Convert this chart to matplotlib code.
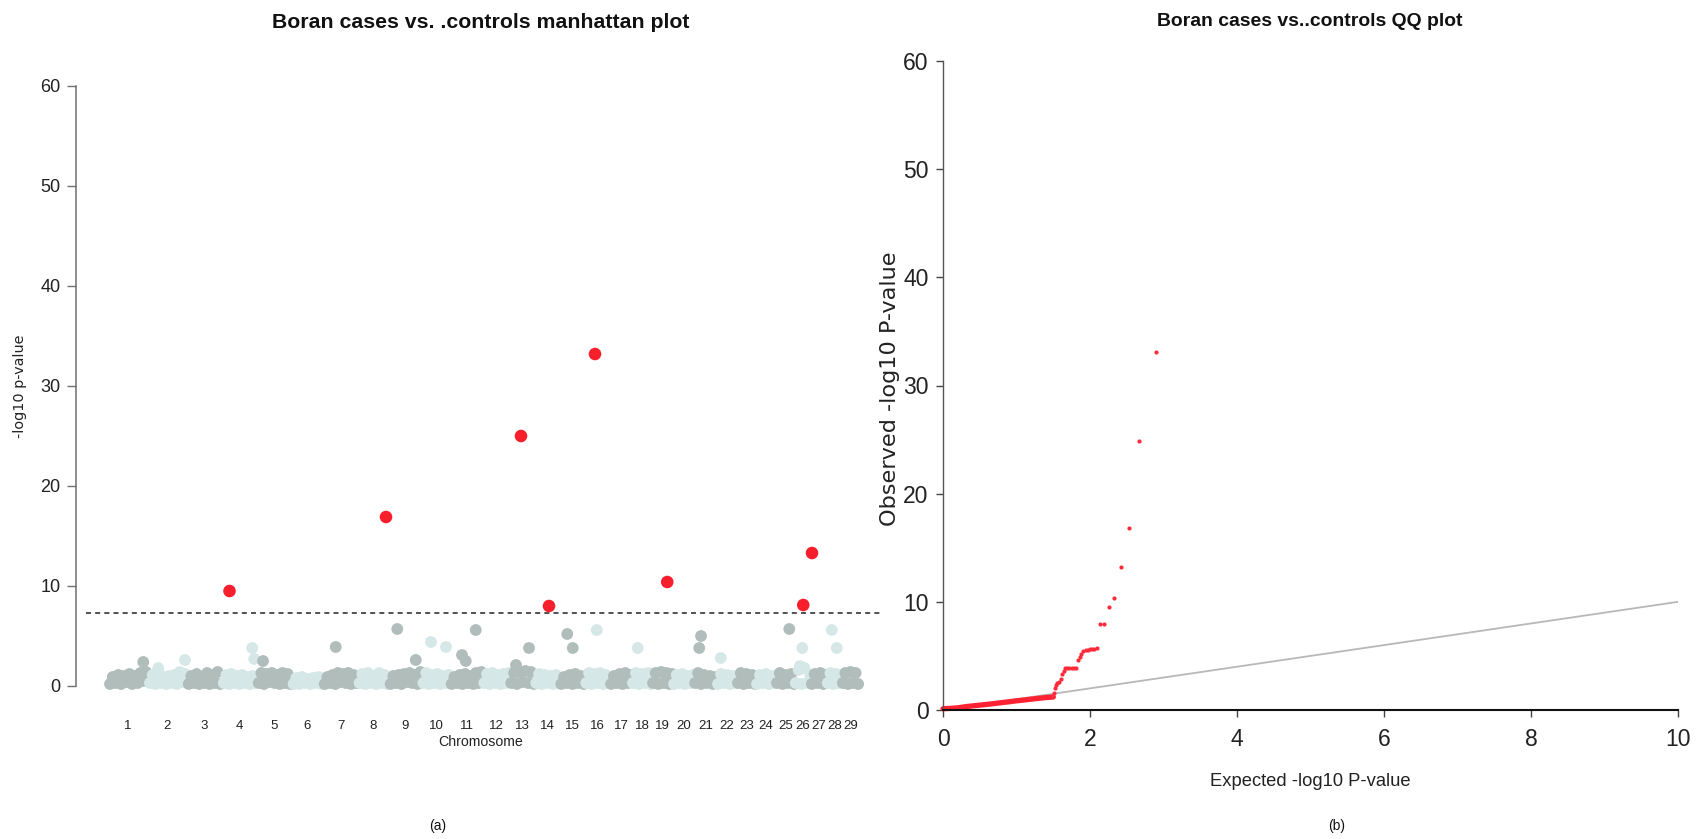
import numpy as np
import matplotlib
matplotlib.use("Agg")
import matplotlib.pyplot as plt
from matplotlib import font_manager as fm

# ---------------- data ----------------
chromosomes = list(range(1, 30))
# chromosome lengths (Mb, read from block widths)
chr_len = [160, 156, 140, 140, 140, 124, 140, 124, 132, 112, 132, 108, 100, 100,
           100, 100, 88, 80, 84, 84, 92, 80, 76, 80, 76, 64, 64, 60, 68]

# background SNP -log10(p) values per chromosome (evenly spread along chromosome)
bg_logp = [
    [0.2, 0.9, 0.3, 1.1, 0.2, 1.0, 0.4, 1.2, 0.2, 1.0, 0.3, 1.3, 0.5, 1.4],
    [0.3, 1.1, 0.2, 1.5, 0.3, 0.9, 0.2, 1.0, 0.3, 1.1, 0.2, 1.4, 0.4, 1.2],
    [0.2, 1.0, 0.3, 1.2, 0.2, 0.9, 0.3, 1.3, 0.2, 1.1, 0.3, 1.4, 0.2],
    [0.3, 1.1, 0.2, 1.2, 0.3, 1.0, 0.2, 1.1, 0.3, 0.9, 0.2, 1.0, 0.3],
    [0.3, 1.3, 0.2, 1.2, 0.4, 1.3, 0.3, 1.1, 0.2, 1.3, 0.3, 1.2, 0.2],
    [0.2, 0.8, 0.2, 0.9, 0.3, 0.7, 0.2, 0.8, 0.3, 0.9, 0.2],
    [0.2, 0.9, 0.3, 1.1, 0.2, 1.3, 0.4, 1.2, 0.3, 1.3, 0.2, 1.1, 0.3],
    [0.3, 1.2, 0.2, 1.3, 0.3, 1.0, 0.2, 1.3, 0.3, 1.1, 0.2],
    [0.2, 1.0, 0.3, 1.1, 0.2, 1.2, 0.4, 1.3, 0.3, 1.1, 0.2, 1.4],
    [0.3, 1.3, 0.2, 1.1, 0.3, 1.2, 0.2, 1.0, 0.3, 1.1],
    [0.2, 0.9, 0.3, 1.1, 0.2, 1.2, 0.3, 1.0, 0.2, 1.3, 0.3, 1.4],
    [0.3, 1.2, 0.2, 1.3, 0.3, 1.1, 0.2, 1.2, 0.3, 1.3],
    [0.3, 1.3, 0.2, 1.4, 0.4, 1.5, 0.3, 1.4, 0.2],
    [0.3, 1.2, 0.2, 1.1, 0.3, 1.0, 0.2, 1.1, 0.3],
    [0.2, 0.9, 0.3, 1.1, 0.2, 1.2, 0.3, 1.0, 0.2],
    [0.3, 1.3, 0.2, 1.2, 0.3, 1.3, 0.2, 1.1, 0.3],
    [0.2, 1.0, 0.3, 1.2, 0.2, 1.3, 0.3, 1.1],
    [0.3, 1.3, 0.2, 1.2, 0.3, 1.3, 0.2],
    [0.3, 1.3, 0.2, 1.4, 0.3, 1.3, 0.2, 1.2],
    [0.2, 1.1, 0.3, 1.2, 0.2, 1.0, 0.3, 1.1],
    [0.3, 1.3, 0.2, 1.1, 0.3, 1.0, 0.2, 0.9],
    [0.2, 1.2, 0.3, 1.1, 0.2, 1.0, 0.3],
    [0.3, 1.3, 0.2, 1.2, 0.3, 1.1, 0.2],
    [0.2, 1.1, 0.3, 1.2, 0.2, 1.0, 0.3],
    [0.3, 1.3, 0.2, 1.1, 0.3, 1.2, 0.2],
    [0.3, 1.6, 0.2, 1.8, 0.3, 1.1],
    [0.2, 1.2, 0.3, 1.3, 0.2, 1.1],
    [0.3, 1.3, 0.2, 1.2, 0.3, 1.1],
    [0.3, 1.3, 0.2, 1.4, 0.3, 1.3, 0.2],
]

# sub-threshold SNPs standing out of the band: chromosome, position (Mb), -log10 p
hit_chr = [1, 2, 2, 4, 4, 5, 7, 9, 9, 10, 10, 11, 11, 11, 13, 13, 15, 15, 16,
           18, 21, 21, 22, 25, 26, 26, 28, 28]
hit_pos = [141, 41, 148, 121, 129, 24, 51, 33, 107, 36, 96, 48, 63, 103, 24, 76,
           29, 51, 47, 23, 28, 21, 15, 53, 29, 20, 19, 39]
hit_logp = [2.4, 1.8, 2.6, 3.8, 2.7, 2.5, 3.9, 5.7, 2.6, 4.4, 3.9, 3.1, 2.5, 5.6,
            2.1, 3.8, 5.2, 3.8, 5.6, 3.8, 5.0, 3.8, 2.8, 5.7, 3.8, 2.0, 5.6, 3.8]

# genome-wide significant SNPs
sig_chr = [4, 8, 13, 14, 16, 19, 26, 27]
sig_pos = [30, 112, 44, 56, 40, 61, 33, 4]
sig_logp = [9.5, 16.9, 25.0, 8.0, 33.2, 10.4, 8.1, 13.3]

threshold = 7.3

# QQ plot: bulk band and tail
qq_band_exp = [0.0, 0.1, 0.2, 0.3, 0.4, 0.5, 0.6, 0.7, 0.8, 0.9, 1.0, 1.1, 1.2, 1.3, 1.4, 1.5]
qq_band_obs = [0.12, 0.15, 0.2, 0.3, 0.38, 0.45, 0.52, 0.6, 0.68, 0.76, 0.85, 0.92, 1.0, 1.08, 1.15, 1.2]
qq_tail_exp = [1.50, 1.51, 1.52, 1.54, 1.55, 1.58, 1.60, 1.62, 1.64, 1.66, 1.69, 1.72,
               1.75, 1.78, 1.81, 1.84, 1.86, 1.88, 1.91, 1.94, 1.97, 2.00, 2.03, 2.06,
               2.09, 2.14, 2.19, 2.26, 2.33, 2.42, 2.53, 2.67, 2.90]
qq_tail_obs = [1.3, 1.6, 2.0, 2.3, 2.5, 2.6, 2.9, 3.3, 3.6, 3.85, 3.85, 3.85,
               3.85, 3.85, 3.85, 4.6, 4.9, 5.2, 5.5, 5.55, 5.55, 5.6, 5.6, 5.6,
               5.7, 7.95, 7.95, 9.5, 10.35, 13.2, 16.8, 24.9, 33.1]

# ---------------- fonts ----------------
def has_font(name):
    try:
        fm.findfont(fm.FontProperties(family=name), fallback_to_default=False)
        return True
    except Exception:
        return False

NARROW = "Liberation Sans Narrow" if has_font("Liberation Sans Narrow") else "Liberation Sans"
REG = "Liberation Sans"
plt.rcParams["font.family"] = [NARROW, "DejaVu Sans"]

W, H = 1705, 839
fig = plt.figure(figsize=(W / 100, H / 100), dpi=100)


def fx(px):
    return px / W


def fy(py):
    return 1 - py / H


DARK = "#b0bdbb"
LIGHT = "#d6e7e7"
RED = "#f81f2d"

# ---------------- Manhattan ----------------
ax1 = fig.add_axes([fx(76), fy(710), fx(881) - fx(76), fy(62) - fy(710)])
starts = np.concatenate([[0], np.cumsum(chr_len)[:-1]])
centers = starts + np.array(chr_len) / 2

for i, vals in enumerate(bg_logp):
    L = chr_len[i]
    pos = starts[i] + np.linspace(0.05 * L, 0.95 * L, len(vals))
    col = DARK if chromosomes[i] % 2 == 1 else LIGHT
    ax1.scatter(pos, vals, s=72, color=col, edgecolors="none", zorder=2)

hx = [starts[c - 1] + p for c, p in zip(hit_chr, hit_pos)]
hcol = [DARK if c % 2 == 1 else LIGHT for c in hit_chr]
ax1.scatter(hx, hit_logp, s=72, c=hcol, edgecolors="none", zorder=3)

sx = [starts[c - 1] + p for c, p in zip(sig_chr, sig_pos)]
ax1.scatter(sx, sig_logp, s=82, color=RED, edgecolors="none", zorder=4)

ax1.axhline(threshold, xmin=0.012, xmax=1.0, color="#333333", lw=1.2,
            ls=(0, (3, 2.5)), zorder=1)

ax1.set_xlim(-128, 3092)
ax1.set_ylim(-2.4, 62.4)
for s in ["top", "right", "bottom"]:
    ax1.spines[s].set_visible(False)
ax1.spines["left"].set_bounds(0, 60)
ax1.spines["left"].set_color("#707070")
ax1.spines["left"].set_linewidth(1.1)
ax1.set_yticks(range(0, 61, 10))
ax1.tick_params(axis="y", direction="out", length=6.5, width=1.0, color="#707070",
                labelsize=13, pad=4.5, labelcolor="#222222")
ax1.set_xticks(centers)
ax1.set_xticklabels([str(c) for c in chromosomes])
ax1.tick_params(axis="x", length=0, labelsize=9.5, pad=7, labelcolor="#222222")
ax1.patch.set_alpha(0)

# ---------------- QQ ----------------
ax2 = fig.add_axes([fx(943), fy(710), fx(1678) - fx(943), fy(61) - fy(710)])
ax2.plot([0, 10], [0, 10], color="#b8b8b8", lw=1.3, zorder=1)
ax2.plot(qq_band_exp, qq_band_obs, color="#ff2232", lw=3.8, solid_capstyle="round",
         zorder=2, clip_on=False)
ax2.plot(qq_tail_exp, qq_tail_obs, "o", ms=3.0, color="#ff2a3a", mec="none", zorder=3)
ax2.set_xlim(0, 10)
ax2.set_ylim(0, 60)
for s in ["top", "right"]:
    ax2.spines[s].set_visible(False)
ax2.spines["left"].set_color("#555555")
ax2.spines["left"].set_linewidth(1.0)
ax2.spines["bottom"].set_color("#111111")
ax2.spines["bottom"].set_linewidth(1.5)
ax2.set_xticks(range(0, 11, 2))
ax2.set_yticks(range(0, 61, 10))
ax2.tick_params(axis="both", direction="out", length=5, width=1.0, color="#444444",
                labelsize=16.5, labelcolor="#222222")
ax2.tick_params(axis="y", pad=5.5)
ax2.tick_params(axis="x", pad=8)
ax2.patch.set_alpha(0)

# ---------------- texts ----------------
renderer = fig.canvas.get_renderer()


def fit(t, target, vertical=False):
    bb = t.get_window_extent(renderer)
    cur = bb.height if vertical else bb.width
    t.set_fontsize(t.get_fontsize() * target / cur)


t1 = fig.text(fx(481), fy(22), "Boran cases vs. .controls manhattan plot", ha="center",
              va="center", fontsize=16, fontweight="bold", color="#111111")
fit(t1, 415)
t2 = fig.text(fx(1310), fy(22), "Boran cases vs..controls QQ plot", ha="center",
              va="center", fontsize=16, fontweight="bold", color="#111111")
fit(t2, 305)
t3 = fig.text(fx(481), fy(742), "Chromosome", ha="center", va="center", fontsize=11,
              color="#222222")
fit(t3, 84)
t4 = fig.text(fx(20), fy(386), "-log10 p-value", ha="center", va="center", rotation=90,
              fontsize=10, family=["DejaVu Sans"], color="#222222")
fit(t4, 103, vertical=True)
t5 = fig.text(fx(1310), fy(781), "Expected -log10 P-value", ha="center", va="center",
              fontsize=13, family=[REG, "DejaVu Sans"], color="#222222")
fit(t5, 200)
t6 = fig.text(fx(890), fy(389), "Observed -log10 P-value", ha="center", va="center",
              rotation=90, fontsize=15, family=["DejaVu Sans"], color="#222222")
fit(t6, 275, vertical=True)
fig.text(fx(438), fy(826), "(a)", ha="center", va="center", fontsize=10,
         family=[REG, "DejaVu Sans"], color="#111111")
fig.text(fx(1337), fy(826), "(b)", ha="center", va="center", fontsize=10,
         family=[REG, "DejaVu Sans"], color="#111111")

fig.savefig("out.png", dpi=100, facecolor="white")
